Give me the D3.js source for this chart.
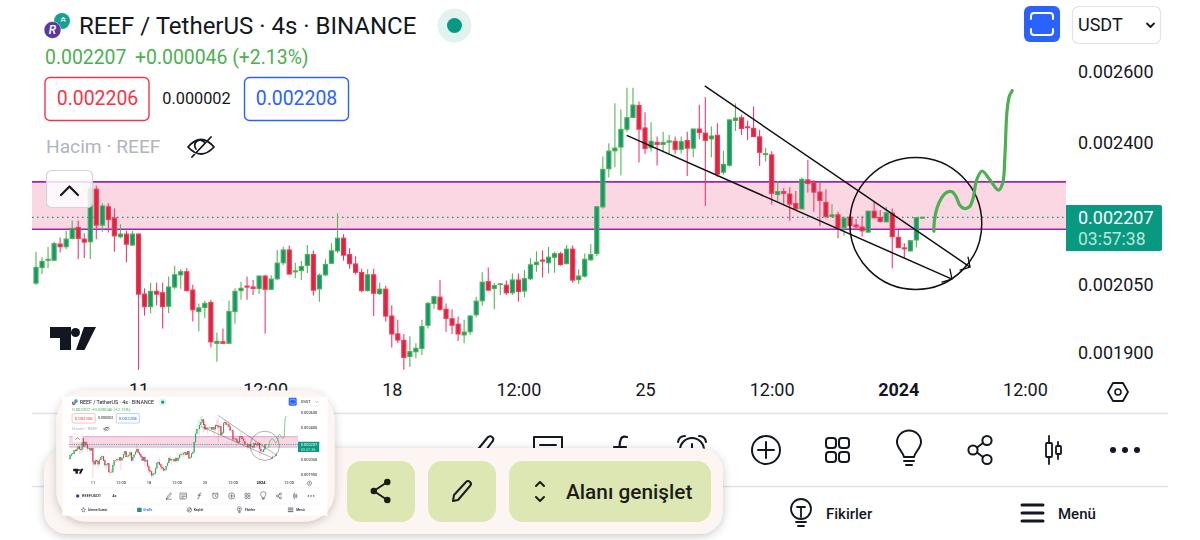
<!DOCTYPE html>
<html><head><meta charset="utf-8">
<script src="https://cdnjs.cloudflare.com/ajax/libs/d3/7.8.5/d3.min.js"></script>
<style>html,body{margin:0;padding:0;background:#fff;overflow:hidden}svg{display:block}text{font-family:Roboto,sans-serif}</style>
</head><body><svg id="c" width="1200" height="540"></svg>
<script>
// Prices in millionths of USDT (2207 = 0.002207)
const opens=[2051,2087,2104,2104,2142,2136,2156,2182,2154,2148,
2277,2188,2233,2205,2160,2166,2140,2166,2026,1998,
2032,2029,1999,2042,2070,2077,2035,1987,1996,2007,
1918,1921,1918,1987,2034,2044,2042,2039,2067,2037,
2061,2098,2128,2077,2080,2092,2117,2038,2070,2097,
2126,2156,2117,2095,2075,2034,2070,2027,2037,1977,
1938,1924,1890,1900,1907,1957,2005,2019,1992,1971,
1959,1936,1943,1980,2011,2054,2039,2048,2046,2029,
2058,2033,2061,2094,2104,2098,2111,2119,2096,2130,
2059,2067,2105,2120,2233,2330,2377,2387,2435,2467,
2500,2438,2385,2399,2394,2400,2402,2381,2404,2384,
2435,2424,2409,2418,2321,2339,2459,2466,2441,2437,
2414,2367,2366,2264,2271,2265,2241,2228,2301,2294,
2270,2244,2209,2213,2182,2207,2188,2183,2171,2222,
2206,2196,2217,2158,2133,2126,2152,2205];
const highs=[2124,2111,2136,2148,2158,2174,2199,2199,2168,2297,
2286,2242,2242,2229,2190,2174,2174,2168,2039,2051,
2052,2052,2066,2091,2083,2085,2047,2005,2011,2013,
1941,1950,2011,2039,2054,2066,2058,2069,2070,2069,
2128,2136,2139,2098,2102,2140,2127,2073,2106,2144,
2217,2166,2132,2113,2084,2083,2084,2052,2045,2001,
1969,1938,1933,1918,1969,2008,2020,2058,2005,1992,
1976,1969,1980,2020,2076,2087,2051,2052,2057,2073,
2073,2081,2109,2125,2127,2135,2124,2124,2140,2139,
2083,2120,2142,2235,2362,2397,2506,2489,2550,2550,
2511,2481,2454,2415,2428,2419,2415,2415,2428,2437,
2502,2523,2442,2451,2377,2462,2506,2474,2458,2497,
2433,2385,2376,2298,2280,2282,2273,2307,2353,2301,
2294,2277,2240,2221,2209,2213,2203,2211,2223,2246,
2225,2233,2229,2176,2144,2152,2207,2207];
const lows=[2047,2072,2085,2103,2122,2130,2154,2106,2109,2107,
2154,2172,2170,2124,2156,2099,2138,1862,1978,1983,
2001,1950,1983,2037,2038,2032,1965,1944,1972,1909,
1879,1918,1918,1960,2013,2013,2024,2026,1939,2035,
2058,2093,2070,2062,2058,2074,2023,2009,2067,2095,
2120,2103,2084,2071,2030,2032,1977,2024,1965,1909,
1918,1862,1868,1886,1893,1950,1993,1989,1942,1938,
1923,1918,1936,1974,2000,2035,1992,2024,2024,2024,
2009,2019,2058,2077,2064,2073,2075,2091,2095,2052,
2049,2064,2103,2114,2229,2307,2334,2313,2428,2465,
2346,2369,2375,2338,2375,2366,2369,2370,2311,2360,
2408,2235,2360,2309,2314,2335,2430,2419,2406,2413,
2337,2349,2239,2246,2238,2199,2227,2227,2269,2221,
2186,2205,2207,2156,2162,2176,2176,2160,2170,2205,
2194,2195,2085,2132,2109,2125,2134,2205];
const closes=[2087,2101,2106,2143,2136,2154,2180,2156,2147,2278,
2188,2235,2202,2162,2166,2142,2166,2026,1998,2032,
2026,1998,2042,2070,2077,2034,1991,1995,2005,1921,
1922,1918,1987,2032,2039,2042,2039,2067,2037,2060,
2097,2128,2072,2079,2089,2117,2035,2069,2094,2126,
2156,2116,2096,2076,2034,2070,2028,2037,1977,1938,
1925,1888,1900,1907,1954,2005,2020,1992,1972,1957,
1938,1942,1977,2010,2053,2035,2045,2049,2029,2058,
2032,2061,2093,2099,2102,2111,2119,2094,2130,2058,
2067,2106,2117,2233,2328,2376,2384,2434,2466,2501,
2435,2383,2402,2394,2399,2403,2381,2401,2384,2435,
2426,2405,2416,2316,2341,2460,2465,2437,2439,2415,
2373,2369,2267,2271,2267,2240,2228,2302,2292,2270,
2249,2209,2213,2182,2205,2187,2184,2174,2222,2206,
2197,2218,2160,2134,2131,2150,2206,2207];
const priceTicks=[1900,2050,2400,2600];
const timeTickBars=[17,38,59,80,101,122,143,164];
const timeTickLabels=["11","12:00","18","12:00","25","12:00","2024","12:00"];
const bandPrices=[2178,2296];
const lastPrice=2207;
const channelUpper=[[110.9,2555],[154.9,2088]];
const channelLower=[[97.96,2418],[151.9,2060]];
const circleCentre=[145.9,2192];
const forecastBars=[148.9,149.0,149.4,150.2,151.0,151.9,152.6,153.2,153.9,154.8,155.4,156.0,156.9,158.2,159.6,160.3,160.7,161.0,161.4,161.9];
const forecastPrices=[2173,2200,2229,2256,2269,2271,2258,2237,2229,2233,2254,2301,2324,2301,2275,2292,2370,2478,2525,2542];
const toolIconsX=[482,548,621,692,766,838,909,981,1053,1125];

const x=d3.scaleLinear().domain([0,164]).range([36,36+6.03*164]);
const y=d3.scaleLog().domain([1900,2600]).range([351.7,70.3]);
const fmt=v=>(v/1e6).toFixed(6);
const UP="#0c9a76",UPB="#4caf50",DN="#d5283f",DNB="#f7375a",WUP="#55b555",WDN="#f23a70",INK="#131722";

function label(g,px,py,s,size,fill,opt={}){
  return g.append("text").attr("x",px).attr("y",py).attr("dy",".35em").attr("font-size",size).attr("fill",fill)
    .attr("text-anchor",opt.anchor||"start").attr("font-weight",opt.weight||400).text(s);
}
function icon(g,d,sw=2,stroke=INK,fill="none"){return g.append("path").attr("d",d).attr("fill",fill).attr("stroke",stroke).attr("stroke-width",sw).attr("stroke-linecap","round").attr("stroke-linejoin","round");}
function at(g,px,py,s){return g.append("g").attr("transform",`translate(${px},${py})`+(s?` scale(${s})`:""));}

function drawToolIcon(g,k){
  if(k===0) icon(g,"M-10,13L-7,3L6,-13Q9,-15 11,-12Q12,-10 10,-8L-2,8L-10,13ZM-12,15H12",2);
  if(k===1){icon(g,"M-14,-13H14V10L8,14H-14ZM-8,-5H8M-8,2H8M-8,9H3",2);}
  if(k===2){icon(g,"M6,-13Q0,-15 -1,-8L-3,9Q-4,14 -9,13M-7,-3H5",2.2);}
  if(k===3){g.append("circle").attr("r",12).attr("fill","none").attr("stroke",INK).attr("stroke-width",2);icon(g,"M0,-6V1L5,4M-14,-8Q-13,-14 -7,-14M14,-8Q13,-14 7,-14",2);}
  if(k===4){g.append("circle").attr("r",14).attr("fill","none").attr("stroke",INK).attr("stroke-width",2);icon(g,"M-8,0H8M0,-8V8",2);}
  if(k===5){[[-7,-7],[6,-7],[-7,7],[6,7]].forEach(p=>g.append("rect").attr("x",p[0]-5).attr("y",p[1]-5).attr("width",10).attr("height",10).attr("rx",3).attr("fill","none").attr("stroke",INK).attr("stroke-width",2));}
  if(k===6){icon(g,"M-5,7C-6,2 -12,-2 -12,-8A12,11.5 0 0 1 12,-8C12,-2 6,2 5,7ZM-5,11H5M-3,15H3",2);}
  if(k===7){[[6,-9.5],[-8,0],[6,9.5]].forEach(p=>g.append("circle").attr("cx",p[0]).attr("cy",p[1]).attr("r",4.6).attr("fill","none").attr("stroke",INK).attr("stroke-width",2));icon(g,"M-4,-2.5L2,-7M-4,2.5L2,7",2);}
  if(k===8){icon(g,"M-4,-14V14M5,-8V9",1.8);g.append("rect").attr("x",-7).attr("y",-7).attr("width",6).attr("height",14).attr("rx",1).attr("fill","#fff").attr("stroke",INK).attr("stroke-width",1.8);g.append("rect").attr("x",3).attr("y",-4).attr("width",5).attr("height",8).attr("rx",1).attr("fill","#fff").attr("stroke",INK).attr("stroke-width",1.8);}
  if(k===9){[-12,0,12].forEach(c=>g.append("circle").attr("cx",c).attr("r",3).attr("fill",INK));}
}

function drawScreen(root,isThumb){
  root.append("rect").attr("width",1200).attr("height",540).attr("fill","#fff");
  // band
  root.append("rect").attr("x",32).attr("width",1034).attr("y",y(bandPrices[1])).attr("height",y(bandPrices[0])-y(bandPrices[1])).attr("fill","#fbd7e4");
  bandPrices.forEach(p=>root.append("line").attr("x1",32).attr("x2",1066).attr("y1",y(p)).attr("y2",y(p)).attr("stroke","#9c27b0").attr("stroke-width",1.6));
  root.append("line").attr("x1",32).attr("x2",1066).attr("y1",y(lastPrice)).attr("y2",y(lastPrice)).attr("stroke","#089981").attr("stroke-width",isThumb?3:1.2).attr("stroke-dasharray",isThumb?"6 4":"1.5 3.5");
  // candles
  const candles=opens.map((o,i)=>({i,o,h:highs[i],l:lows[i],c:closes[i]}));
  const cg=root.append("g");
  const sel=cg.selectAll("g").data(candles).join("g");
  sel.append("line").attr("x1",d=>x(d.i)).attr("x2",d=>x(d.i)).attr("y1",d=>y(d.h)).attr("y2",d=>y(d.l)).attr("stroke",d=>d.c>=d.o?WUP:WDN).attr("stroke-width",1.1);
  sel.append("rect").attr("x",d=>x(d.i)-2).attr("width",4)
    .attr("y",d=>y(Math.max(d.o,d.c))).attr("height",d=>Math.max(.4,Math.abs(y(d.o)-y(d.c))))
    .attr("fill",d=>d.c>=d.o?UP:DN).attr("stroke",d=>d.c>=d.o?UPB:DNB).attr("stroke-width",1.2);
  // trend lines with hand-drawn arrow heads
  [channelUpper,channelLower].forEach(s=>{
    const a=[x(s[0][0]),y(s[0][1])],b=[x(s[1][0]),y(s[1][1])];
    root.append("line").attr("x1",a[0]).attr("y1",a[1]).attr("x2",b[0]).attr("y2",b[1]).attr("stroke","#111").attr("stroke-width",1.5);
    icon(root,`M${b[0]-2},${b[1]-10}L${b[0]},${b[1]}L${b[0]-10},${b[1]+3}`,1.3,"#111");
  });
  root.append("circle").attr("cx",x(circleCentre[0])).attr("cy",y(circleCentre[1])).attr("r",66).attr("fill","none").attr("stroke","#111").attr("stroke-width",1.5);
  const fl=d3.line().x(d=>x(d[0])).y(d=>y(d[1])).curve(d3.curveCatmullRom);
  root.append("path").attr("d",fl(forecastBars.map((b,i)=>[b,forecastPrices[i]]))).attr("fill","none").attr("stroke","#4caf50").attr("stroke-width",3.2).attr("stroke-linecap","round");
  // axes
  const ay=d3.axisRight(y).tickValues(priceTicks).tickFormat(fmt).tickSize(0).tickPadding(0);
  const gy=root.append("g").attr("transform","translate(1078,1)").call(ay);
  gy.select(".domain").remove();
  gy.selectAll("text").attr("font-size",18).attr("fill",INK).attr("font-family","Roboto,sans-serif");
  const ax=d3.axisBottom(x).tickValues(timeTickBars).tickFormat((d,i)=>timeTickLabels[i]).tickSize(0).tickPadding(0);
  const gx=root.append("g").attr("transform","translate(0,383.5)").call(ax);
  gx.select(".domain").remove();
  gx.selectAll("text").attr("font-size",18).attr("fill",INK).attr("font-family","Roboto,sans-serif").attr("font-weight",(d,i)=>timeTickLabels[i]==="2024"?700:400);
  // last price tag
  root.append("path").attr("d","M1066,205H1160Q1162,205 1162,207V249Q1162,251 1160,251H1066Z").attr("fill","#089981");
  label(root,1078,218,fmt(lastPrice),18,"#fff");
  label(root,1078,239,"03:57:38",17.5,"#b9e5da");
  // header
  root.append("circle").attr("cx",62).attr("cy",21).attr("r",8).attr("fill","#17a08c");
  label(root,63,20,"₳",7,"#fff",{anchor:"middle"});
  root.append("circle").attr("cx",52.5).attr("cy",30).attr("r",8.5).attr("fill","#5b3a9e").attr("stroke","#fff").attr("stroke-width",.5);
  label(root,52.5,30,"R",12,"#fff",{anchor:"middle",weight:500}).attr("font-style","italic");
  label(root,79,26,"REEF / TetherUS · 4s · BINANCE",24,INK);
  root.append("circle").attr("cx",454.5).attr("cy",25.5).attr("r",17).attr("fill","#e1f3ef");
  root.append("circle").attr("cx",454.5).attr("cy",25.5).attr("r",7.5).attr("fill","#089981");
  label(root,45,57,"0.002207",19.4,"#4caf50");
  label(root,135,57,"+0.000046 (+2.13%)",19.4,"#4caf50");
  root.append("rect").attr("x",45).attr("y",77.5).attr("width",104).attr("height",43).attr("rx",5).attr("fill","#fff").attr("stroke","#f23645").attr("stroke-width",1.4);
  label(root,97.5,98.5,"0.002206",19.4,"#f23645",{anchor:"middle"});
  label(root,196.5,98.5,"0.000002",16.3,INK,{anchor:"middle"});
  root.append("rect").attr("x",244.5).attr("y",77.5).attr("width",104).attr("height",43).attr("rx",5).attr("fill","#fff").attr("stroke","#2962ff").attr("stroke-width",1.4);
  label(root,296.5,98.5,"0.002208",19.4,"#2962ff",{anchor:"middle"});
  label(root,46,146,"Hacim · REEF",19.2,"#b2b5be");
  const eye=at(root,201,147);
  icon(eye,"M-13,0Q0,-15 13,0Q0,14 -13,0ZM-9,10L10,-10M-5,2A5,5 0 0 1 3,-5",1.8);
  // collapse button
  root.append("rect").attr("x",46.5).attr("y",170.5).attr("width",46).attr("height",37).attr("rx",5).attr("fill","#fff").attr("fill-opacity",.82).attr("stroke","#d1d4dc").attr("stroke-width",1.2);
  icon(root,"M61,195L69.5,186.5L78,195",2.2);
  // TV logo
  root.append("path").attr("d","M50,327H71V350H60V338H50Z").attr("fill",INK);
  root.append("circle").attr("cx",75.5).attr("cy",332.5).attr("r",4.5).attr("fill",INK);
  root.append("path").attr("d","M84,327H96L84.5,350H76Z").attr("fill",INK);
  // top right
  root.append("rect").attr("x",1024).attr("y",6).attr("width",36).attr("height",36).attr("rx",6).attr("fill","#2962ff");
  icon(root,"M1031,19V16Q1031,13 1034,13H1050Q1053,13 1053,16V19M1031,29V32Q1031,35 1034,35H1050Q1053,35 1053,32V29",2,"#fff");
  root.append("rect").attr("x",1072.5).attr("y",6.5).attr("width",88).attr("height",37).attr("rx",6).attr("fill","#fff").attr("stroke","#e0e3eb").attr("stroke-width",1.2);
  label(root,1078,25,"USDT",18,INK);
  icon(root,"M1147,23.5L1150.5,27L1154,23.5",1.8);
  const hex=at(root,1118,392);
  icon(hex,"M-10,0L-5,-9H5L10,0L5,9H-5Z",1.8);
  hex.append("circle").attr("r",3).attr("fill","none").attr("stroke",INK).attr("stroke-width",1.6);
  // toolbar
  [413.5,486.5].forEach(l=>root.append("line").attr("x1",32).attr("x2",1168).attr("y1",l).attr("y2",l).attr("stroke","#e0e3eb").attr("stroke-width",1.3));
  toolIconsX.forEach((px,k)=>drawToolIcon(at(root,px,450),k));
  // left part of the toolbar and nav is covered by the floating panel in the full view
  if(isThumb){
    root.append("circle").attr("cx",70).attr("cy",450).attr("r",8).attr("fill","#5b3a9e");
    label(root,90,450,"REEFUSDT",18,INK,{weight:500});
    label(root,226,450,"4s",18,INK,{weight:500});
    const star=at(root,96,513);icon(star,"M0,-10L3,-3L10,-2L5,3L6,10L0,6L-6,10L-5,3L-10,-2L-3,-3Z",1.8);
    label(root,116,513,"İzleme listesi",15,INK,{weight:500});
    root.append("rect").attr("x",339).attr("y",503).attr("width",20).attr("height",20).attr("rx",3).attr("fill","#089981");
    root.append("rect").attr("x",344).attr("y",507).attr("width",4).attr("height",12).attr("fill","#f23645");
    label(root,367,513,"Grafik",15,"#2962ff",{weight:500});
    const comp=at(root,575,513);comp.append("circle").attr("r",10).attr("fill","none").attr("stroke",INK).attr("stroke-width",2);icon(comp,"M5,-5L2,2L-5,5L-2,-2Z",1.6);
    label(root,595,513,"Keşfet",15,INK,{weight:500});
  }
  // bottom nav
  const bulb=at(root,801,511);
  bulb.append("circle").attr("cy",-2).attr("r",10).attr("fill","none").attr("stroke",INK).attr("stroke-width",1.8);
  icon(bulb,"M-4,-4H4M0,-4V6M-5,11H5M-3,15H3",1.8);
  label(root,826,514,"Fikirler",15,INK,{weight:500});
  icon(root,"M1022,505H1043M1022,513H1043M1022,521H1043",3,INK);
  label(root,1058,514,"Menü",15,INK,{weight:500});
}

const svg=d3.select("#c");
const defs=svg.append("defs");
const sh=defs.append("filter").attr("id","sh").attr("x","-10%").attr("y","-20%").attr("width","120%").attr("height","150%");
sh.append("feDropShadow").attr("dx",0).attr("dy",2).attr("stdDeviation",5).attr("flood-color","#000").attr("flood-opacity",.22);
const bl=defs.append("filter").attr("id","bl");
bl.append("feGaussianBlur").attr("stdDeviation",2.4);
defs.append("clipPath").attr("id","tc").append("rect").attr("width",1200).attr("height",540);

drawScreen(svg.append("g"),false);

// floating share panel
svg.append("rect").attr("x",44).attr("y",448).attr("width",679).attr("height",86).attr("rx",24).attr("fill","#fdf5f2").attr("filter","url(#sh)");
const BTN="#dde7b3";
[[347,68],[428,68],[509,202]].forEach(b=>svg.append("rect").attr("x",b[0]).attr("y",461).attr("width",b[1]).attr("height",61).attr("rx",14).attr("fill",BTN));
const share=at(svg,381,491,.9);
[[7,-10],[-8,0],[7,10]].forEach(p=>share.append("circle").attr("cx",p[0]).attr("cy",p[1]).attr("r",3.6).attr("fill","#1d1b16"));
icon(share,"M-8,0L7,-10M-8,0L7,10",2.2,"#1d1b16");
const pen=at(svg,462,491);
icon(pen,"M-9,10L-8,4L4,-9Q6,-11 8,-9Q10,-7 8,-5L-4,9Z",2,"#1d1b16");
icon(svg,"M536,486L540,482L544,486M536,497L540,501L544,497",2,"#1d1b16");
label(svg,566,492,"Alanı genişlet",20.8,"#1d1b16",{weight:500});

// thumbnail of the screen
svg.append("rect").attr("x",56.5).attr("y",390.5).attr("width",278).attr("height",131).attr("rx",30).attr("fill","#fdf5f2").attr("filter","url(#sh)");
const th=svg.append("g").attr("transform","translate(62.2,396.4) scale(0.2212)").attr("clip-path","url(#tc)");
drawScreen(th.append("g").attr("filter","url(#bl)"),true);
</script></body></html>
